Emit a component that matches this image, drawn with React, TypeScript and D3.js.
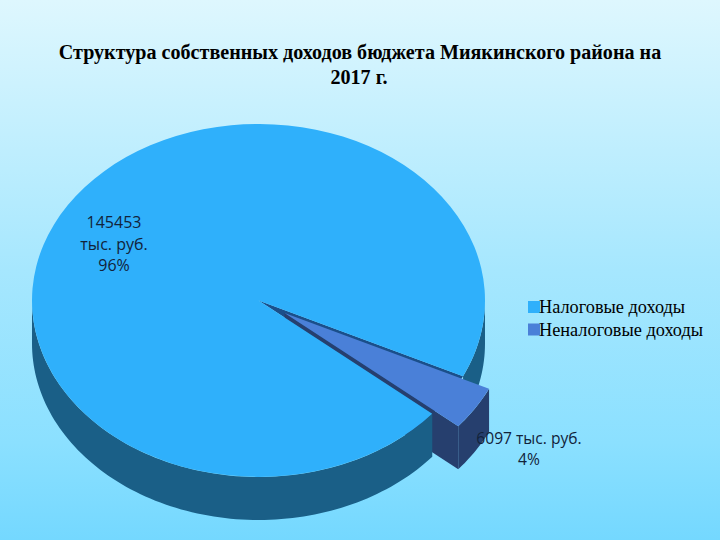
import React from "react";
import * as d3 from "d3";

const categories = ["Налоговые доходы", "Неналоговые доходы"];
const values = [145453, 6097];
const dataLabels = [["145453", "тыс. руб.", "96%"], ["6097 тыс. руб.", "4%"]];
const titleLines = ["Структура собственных доходов бюджета Миякинского района на", "2017 г."];
const topColors = ["#2fb0fb", "#4a80d8"];
const wallColors = ["#1a5f87", "#263f6e"];

const W = 720, H = 540;
const cx = 258.5, cy = 300.5, rx = 226.5, ry = 176.5, depth = 43;
const rotation = (129.9 * Math.PI) / 180;
const explode = { x: 26, y: 12.5 };

const pie = d3.pie<number>().sort(null).startAngle(rotation).endAngle(rotation + 2 * Math.PI);
const arcs = pie(values);
const unitArc = d3.arc<any>().innerRadius(0).outerRadius(1);

const pt = (a: number, ox = 0, oy = 0): [number, number] => [cx + ox + rx * Math.sin(a), cy + oy - ry * Math.cos(a)];
const line = d3.line();

function outerWall(a0: number, a1: number, ox = 0, oy = 0) {
  if (a1 <= a0) return "";
  const n = Math.max(2, Math.ceil((a1 - a0) * 40));
  const top = d3.range(n + 1).map((i) => pt(a0 + ((a1 - a0) * i) / n, ox, oy));
  const bottom = top.map(([x, y]) => [x, y + depth] as [number, number]).reverse();
  return line([...top, ...bottom]) + "Z";
}
function radialWall(a: number, ox = 0, oy = 0) {
  const [x, y] = pt(a, ox, oy);
  const c: [number, number] = [cx + ox, cy + oy];
  return line([c, [x, y], [x, y + depth], [c[0], c[1] + depth]]) + "Z";
}
const T = 2 * Math.PI;
const main = arcs[0], small = arcs[1];
const smallStart = small.startAngle, smallEnd = small.endAngle;
const norm = smallStart - T;

const topTransform = (ox = 0, oy = 0) => `translate(${cx + ox},${cy + oy}) scale(${rx},${ry})`;

export default function App() {
  return (
    <svg width={W} height={H} viewBox={`0 0 ${W} ${H}`} style={{ position: "absolute", left: 0, top: 0 }}>
      <defs>
        <linearGradient id="bg" x1="0" y1="0" x2="0" y2="1">
          <stop offset="0" stopColor="#def7fe" />
          <stop offset="0.5" stopColor="#a6e7fe" />
          <stop offset="0.82" stopColor="#8be0ff" />
          <stop offset="1" stopColor="#74d8ff" />
        </linearGradient>
      </defs>
      <rect width={W} height={H} fill="url(#bg)" />

      {/* notch: floor and far wall */}
      <path d={unitArc({ startAngle: norm, endAngle: norm + (smallEnd - smallStart) })!} transform={topTransform()} fill="#1b4f8a" />

      {/* exploded slice walls */}
      <path d={radialWall(norm + smallEnd - smallStart, explode.x, explode.y)} fill={wallColors[1]} />
      <path d={outerWall(norm, norm + smallEnd - smallStart, explode.x, explode.y)} fill={wallColors[1]} />

      {/* main slice outer wall, only the part facing the viewer */}
      <path d={outerWall(Math.PI / 2, norm)} fill={wallColors[0]} />
      <path d={outerWall(main.startAngle, (3 * Math.PI) / 2)} fill={wallColors[0]} />

      {/* tops */}
      <path d={unitArc(main)!} transform={topTransform()} fill={topColors[0]} />
      <path d={unitArc(small)!} transform={topTransform(explode.x, explode.y)} fill={topColors[1]} />

      {/* title */}
      <g fontFamily="'Liberation Serif', serif" fontWeight="bold" fontSize={20.1} fill="#000" textAnchor="middle">
        <text x={360} y={59}>{titleLines[0]}</text>
        <text x={359} y={84}>{titleLines[1]}</text>
      </g>

      {/* data labels */}
      <g fontFamily="'Open Sans', sans-serif" fill="#12233a" textAnchor="middle">
        {dataLabels[0].map((t, i) => (
          <text key={t} x={114} y={228 + i * 21.5} fontSize={16}>{t}</text>
        ))}
        {dataLabels[1].map((t, i) => (
          <text key={t} x={529} y={444 + i * 21} fontSize={15.6}>{t}</text>
        ))}
      </g>

      {/* legend */}
      <g fontFamily="'Liberation Serif', serif" fontSize={18.3} fill="#000">
        {categories.map((c, i) => (
          <g key={c}>
            <rect x={528} y={301 + i * 22.5} width={12} height={12} fill={topColors[i]} />
            <text x={539} y={313 + i * 22.5}>{c}</text>
          </g>
        ))}
      </g>
    </svg>
  );
}
